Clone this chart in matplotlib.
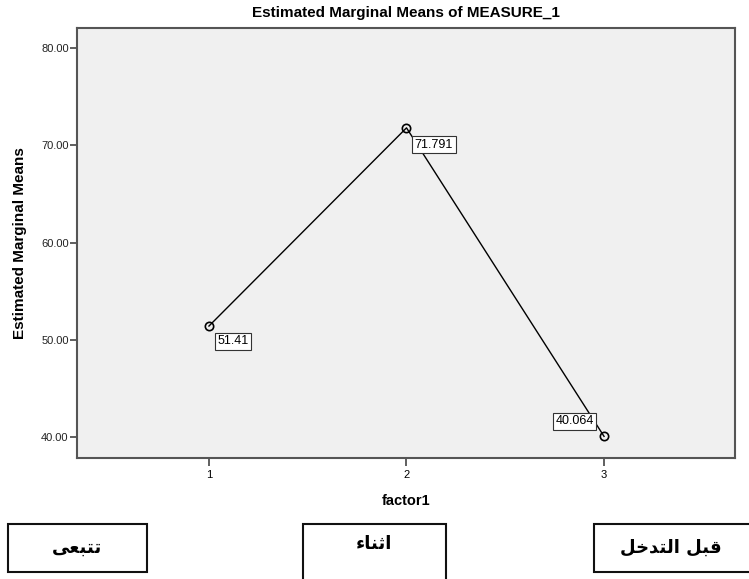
import matplotlib
matplotlib.use("Agg")
import matplotlib.pyplot as plt
from matplotlib.patches import Rectangle

# Data
factor_levels = [1, 2, 3]
means = [51.41, 71.791, 40.064]
point_labels = ["51.41", "71.791", "40.064"]
y_ticks = [40, 50, 60, 70, 80]
# Arabic captions (presentation forms in visual order so they render joined)
captions = ["\uFEF0\uFECC\uFE92\uFE98\uFE97",                          # تتبعى
            "\uFE80\uFE8E\uFEE8\uFE9B\uFE8D",                          # اثناء
            "\uFEDE\uFEA7\uFEAA\uFE98\uFEDF\uFE8D \uFEDE\uFE92\uFED7"]  # قبل التدخل

plt.rcParams['font.family'] = ['Liberation Sans', 'DejaVu Sans']

W, H = 749, 579
fig = plt.figure(figsize=(W / 100, H / 100), dpi=100)
fig.patch.set_facecolor('white')

left, right, top, bottom = 77, 735, 28, 458
ax = fig.add_axes([left / W, 1 - bottom / H, (right - left) / W, (bottom - top) / H])
ax.set_facecolor('#F0F0F0')

ax.plot(factor_levels, means, color='black', lw=1.0, marker='o', markersize=6,
        markerfacecolor='none', markeredgecolor='black', markeredgewidth=1.2, zorder=3)

offsets = [(6, -11), (6, -12), (-35, 11)]
for x, y, lab, off in zip(factor_levels, means, point_labels, offsets):
    ax.annotate(lab, (x, y), xytext=off, textcoords='offset points', fontsize=9,
                ha='left', va='center',
                bbox=dict(boxstyle='square,pad=0.2', facecolor='white', edgecolor='#333333', lw=0.8),
                zorder=4)

ax.set_xlim(0.332, 3.663)
ax.set_ylim(37.84, 82.06)
ax.set_xticks(factor_levels)
ax.set_xticklabels([str(v) for v in factor_levels], fontsize=8)
ax.set_yticks(y_ticks)
ax.set_yticklabels([f"{v:.2f}" for v in y_ticks], fontsize=8, color='#222222')
ax.tick_params(axis='y', direction='out', length=5, width=1.2, pad=1, color='#444444')
ax.tick_params(axis='x', direction='out', length=6, width=1.2, pad=3, color='#444444')
for s in ax.spines.values():
    s.set_color('#555555')
    s.set_linewidth(1.5)

ax.set_title("Estimated Marginal Means of MEASURE_1", fontsize=11, fontweight='bold', pad=8)
ax.set_ylabel("Estimated Marginal Means", fontsize=11, fontweight='bold', labelpad=10)
ax.set_xlabel("factor1", fontsize=10.5, fontweight='bold', labelpad=10)

# Arabic caption boxes below the chart
boxes = [(8, 524, 147, 572), (303, 524, 446, 590), (594, 524, 760, 572)]
for (x0, y0, x1, y1), cap in zip(boxes, captions):
    fig.patches.append(Rectangle((x0 / W, 1 - y1 / H), (x1 - x0) / W, (y1 - y0) / H,
                                 transform=fig.transFigure, facecolor='white',
                                 edgecolor='#111111', lw=1.5))
tx = [(77, 548), (374, 544), (671, 548)]
for (x, y), cap in zip(tx, captions):
    fig.text(x / W, 1 - y / H, cap, ha='center', va='center', fontsize=13,
             fontweight='bold', family=['DejaVu Sans'])

fig.savefig("out.png", dpi=100)
